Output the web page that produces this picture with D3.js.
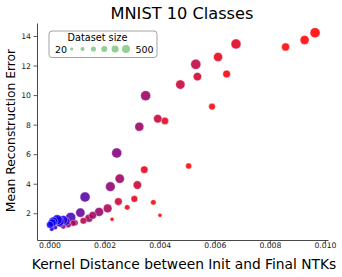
<!DOCTYPE html>
<html>
<head>
<meta charset="utf-8">
<script src="https://cdn.jsdelivr.net/npm/d3@7"></script>
<style>
  body { margin: 0; background: #fff; }
  text { font-family: "DejaVu Sans", sans-serif; }
</style>
</head>
<body>
<svg id="chart" width="342" height="277"></svg>
<script>
// kernel distance (x), reconstruction error (y), dataset size, colour position (0 blue .. 1 red)
var kernelDist = [0.00964, 0.00926, 0.00857, 0.00677, 0.00612, 0.00643, 0.00531, 0.00537, 0.00475, 0.00590,
  0.00349, 0.00393, 0.00419, 0.00326, 0.00244, 0.00505, 0.00344, 0.00255, 0.00319, 0.00221,
  0.00129, 0.00250, 0.00308, 0.00377, 0.00282, 0.00211, 0.00180, 0.00112, 0.00227, 0.00401,
  0.00143, 0.00123, 0.00093, 0.00077, 0.00157, 0.00086, 0.00068, 0.00050, 0.00040, 0.00020,
  0.00060, 0.00050, 0.00035, 0.00028, 0.00014, 0.00010, 0.00008, 0.00002];
var reconError = [14.22, 13.73, 13.26, 13.46, 12.58, 11.43, 12.08, 11.25, 10.71, 9.22,
  9.96, 8.40, 8.25, 7.86, 6.08, 5.20, 4.95, 4.34, 3.91, 3.80,
  3.10, 2.79, 2.97, 2.74, 2.40, 2.33, 2.09, 2.04, 1.59, 1.86,
  1.66, 1.49, 1.35, 1.72, 1.86, 1.33, 1.22, 1.10, 1.25, 1.05,
  1.45, 1.55, 1.45, 1.56, 1.44, 1.35, 0.93, 1.22];
var datasetSize = [500, 420, 340, 500, 420, 310, 500, 370, 440, 230,
  500, 370, 280, 420, 500, 180, 290, 440, 370, 470,
  500, 310, 230, 130, 130, 390, 420, 440, 20, 20,
  340, 230, 180, 500, 310, 180, 180, 100, 180, 100,
  340, 420, 500, 500, 420, 340, 60, 260];
var colorPos = [1.0, 1.0, 1.0, 0.88, 0.9, 0.95, 0.75, 0.82, 0.78, 0.97,
  0.6, 0.78, 0.88, 0.6, 0.5, 1.0, 0.9, 0.62, 0.8, 0.55,
  0.35, 0.8, 0.9, 0.98, 0.95, 0.68, 0.58, 0.4, 1.0, 1.0,
  0.62, 0.7, 0.7, 0.28, 0.62, 0.65, 0.6, 0.55, 0.25, 0.3,
  0.2, 0.15, 0.1, 0.08, 0.05, 0.03, 0.05, 0.05];
var xTicks = [0, 0.002, 0.004, 0.006, 0.008, 0.010];
var yTicks = [2, 4, 6, 8, 10, 12, 14];
var legendSizes = [20, 116, 212, 308, 404, 500];

var data = kernelDist.map(function (d, i) {
  return { x: d, y: reconError[i], size: datasetSize[i], c: colorPos[i] };
});

var margin = { top: 23, right: 14, bottom: 37, left: 37 },
  width = 342 - margin.left - margin.right,
  height = 277 - margin.top - margin.bottom;

var svg = d3.select("#chart");
var g = svg.append("g")
  .attr("transform", "translate(" + margin.left + "," + margin.top + ")");

var x = d3.scaleLinear().domain([-0.000454, 0.01011]).range([0, width]);
var y = d3.scaleLinear().domain([0.19, 14.88]).range([height, 0]);
var r = d3.scaleLinear().domain([20, 500]).range([2, 5]);
var color = d3.interpolateRgb("#0000ff", "#ff0000");

// points
g.append("g")
  .selectAll("circle")
  .data(data)
  .enter()
  .append("circle")
  .attr("cx", function (d) { return x(d.x); })
  .attr("cy", function (d) { return y(d.y); })
  .attr("r", function (d) { return r(d.size); })
  .attr("fill", function (d) { return color(d.c); })
  .attr("fill-opacity", 0.88)
  .attr("stroke", "#fff")
  .attr("stroke-opacity", 0.45)
  .attr("stroke-width", 0.8);

// axes
var xAxis = g.append("g")
  .attr("transform", "translate(0," + height + ")")
  .call(d3.axisBottom(x).tickValues(xTicks).tickFormat(d3.format(".3f")).tickSize(3.5).tickSizeOuter(0));
var yAxis = g.append("g")
  .call(d3.axisLeft(y).tickValues(yTicks).tickSize(3.5).tickSizeOuter(0));

[xAxis, yAxis].forEach(function (a) {
  a.select(".domain").attr("stroke", "#333").attr("stroke-width", 0.9);
  a.selectAll(".tick line").attr("stroke", "#333").attr("stroke-width", 0.8);
  a.selectAll(".tick text").attr("fill", "#222").style("font-size", "7.7px")
    .style("font-family", "DejaVu Sans, sans-serif");
});
xAxis.selectAll(".tick text").attr("y", 2.5);
yAxis.selectAll(".tick text").attr("x", -6);

// title and labels
svg.append("text")
  .attr("x", 182)
  .attr("y", 18.5)
  .attr("text-anchor", "middle")
  .style("font-size", "16.2px")
  .text("MNIST 10 Classes");

svg.append("text")
  .attr("x", 184)
  .attr("y", 269)
  .attr("text-anchor", "middle")
  .style("font-size", "13.8px")
  .text("Kernel Distance between Init and Final NTKs");

svg.append("text")
  .attr("transform", "translate(15,130.5) rotate(-90)")
  .attr("text-anchor", "middle")
  .style("font-size", "12.3px")
  .text("Mean Reconstruction Error");

// legend
var lg = svg.append("g");
lg.append("rect")
  .attr("x", 49)
  .attr("y", 31)
  .attr("width", 108)
  .attr("height", 26.5)
  .attr("rx", 3)
  .attr("fill", "#fff")
  .attr("fill-opacity", 0.8)
  .attr("stroke", "#999")
  .attr("stroke-width", 0.9);
lg.append("text")
  .attr("x", 97.5)
  .attr("y", 40.5)
  .attr("text-anchor", "middle")
  .style("font-size", "9.7px")
  .text("Dataset size");
lg.append("text")
  .attr("x", 55)
  .attr("y", 52.5)
  .style("font-size", "9.5px")
  .text("20");
lg.append("text")
  .attr("x", 135.5)
  .attr("y", 52.5)
  .style("font-size", "9.5px")
  .text("500");
var lx = d3.scalePoint().domain(legendSizes).range([71.7, 126]);
lg.selectAll(".lc")
  .data(legendSizes)
  .enter()
  .append("circle")
  .attr("class", "lc")
  .attr("cx", function (d) { return lx(d); })
  .attr("cy", 49)
  .attr("r", function (d) { return r(d) * 0.8; })
  .attr("fill", "#2ca02c")
  .attr("fill-opacity", 0.5);
</script>
</body>
</html>
